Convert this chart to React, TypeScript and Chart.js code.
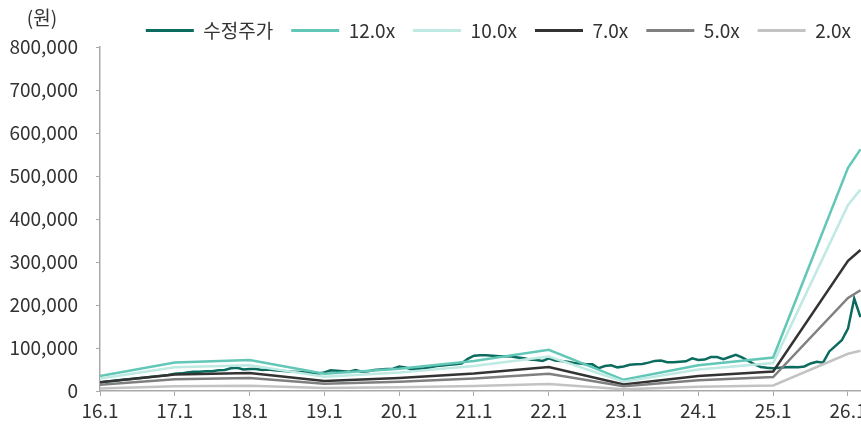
import React, { useEffect, useRef } from "react";
import { Chart, registerables } from "chart.js";

Chart.register(...registerables);

// x positions are months since 2016-01
const tickMonths = [0, 12, 24, 36, 48, 60, 72, 84, 96, 108, 120];
const tickLabels = ["16.1", "17.1", "18.1", "19.1", "20.1", "21.1", "22.1", "23.1", "24.1", "25.1", "26.1"];

// adjusted stock price, monthly from 2016-01
const priceValues = [
  20000, 22000, 23500, 25000, 26500, 28000, 29500, 31000, 32500, 34000, 35500, 37000,
  40000, 41000, 43000, 45000, 45000, 46000, 46000, 48000, 49000, 53000, 54000, 50000,
  51000, 51000, 49000, 50000, 48000, 47000, 46000, 45000, 44000, 43000, 42000, 41000,
  43000, 48000, 47000, 46000, 45000, 49000, 45000, 46000, 49000, 50000, 51000, 52000,
  57000, 55000, 50000, 52000, 53000, 55000, 58000, 59000, 61000, 62000, 64000, 75000,
  82000, 83000, 83000, 82000, 81000, 81000, 80000, 78000, 76000, 73000, 72000, 70000,
  76000, 71000, 70000, 68000, 65000, 64000, 62000, 62000, 53000, 58000, 60000, 55000,
  57000, 61000, 62000, 63000, 66000, 70000, 71000, 67000, 67000, 68000, 69000, 76000,
  72000, 73000, 79000, 79000, 74000, 79000, 84000, 78000, 70000, 62000, 56000, 54000,
  53000, 54000, 55000, 56000, 55000, 57000, 64000, 68000, 66000, 92000, 105000, 118000,
  145000, 215000, 172000,
];

// PER band anchor months and values
const bandMonths = [0, 12, 24, 36, 48, 60, 72, 84, 96, 108, 120, 122];
const band12 = [35000, 66000, 72000, 40000, 52000, 70000, 96000, 26000, 60000, 78000, 519000, 562000];
const band10 = [29200, 55000, 60000, 33300, 43300, 58300, 80000, 21700, 50000, 65000, 432500, 468300];
const band7 = [20400, 38500, 42000, 23300, 30300, 40800, 56000, 15200, 35000, 45500, 302800, 327800];
const band5 = [14600, 27500, 30000, 16700, 21700, 29200, 40000, 10800, 25000, 32500, 216300, 234200];
const band2 = [5800, 11000, 12000, 6700, 8700, 11700, 16000, 4300, 10000, 13000, 86500, 93700];

const seriesNames = ["수정주가", "12.0x", "10.0x", "7.0x", "5.0x", "2.0x"];
const seriesColors = ["#0b6b5f", "#63c7b8", "#bfe9e3", "#333333", "#808080", "#c3c3c3"];

const FONT = "'Noto Sans CJK KR', 'Noto Sans', sans-serif";
const FS = 19;
const TEXT = "#333333";
const AXIS = "#a9a9a9";

export default function App() {
  const ref = useRef<HTMLCanvasElement | null>(null);

  useEffect(() => {
    if (!ref.current) return;
    const bandSets = [band12, band10, band7, band5, band2];
    const datasets: any[] = [
      {
        label: seriesNames[0],
        data: priceValues.map((v, i) => ({ x: i, y: v })),
        borderColor: seriesColors[0],
        backgroundColor: seriesColors[0],
        borderWidth: 2.5,
        pointRadius: 0,
        tension: 0,
        order: 10,
      },
      ...bandSets.map((vals, k) => ({
        label: seriesNames[k + 1],
        data: vals.map((v, i) => ({ x: bandMonths[i], y: v })),
        borderColor: seriesColors[k + 1],
        backgroundColor: seriesColors[k + 1],
        borderWidth: 2.5,
        pointRadius: 0,
        tension: 0,
        order: 5 - k,
      })),
    ];

    const unitPlugin = {
      id: "unitLabel",
      afterDraw(chart: any) {
        const ctx = chart.ctx;
        ctx.save();
        ctx.font = `${FS}px ${FONT}`;
        ctx.fillStyle = TEXT;
        ctx.textAlign = "center";
        ctx.textBaseline = "middle";
        ctx.fillText("(원)", 42, 18);
        ctx.restore();
      },
    };

    const chart = new Chart(ref.current, {
      type: "line",
      data: { datasets },
      plugins: [unitPlugin],
      options: {
        responsive: false,
        animation: false,
        layout: { padding: { top: 3, right: 11, bottom: 0, left: 0 } },
        plugins: {
          tooltip: { enabled: false },
          legend: {
            display: true,
            position: "top",
            align: "end",
            maxHeight: 44,
            labels: {
              boxWidth: 48,
              boxHeight: 3,
              padding: 18,
              color: TEXT,
              font: { family: FONT, size: FS },
              sort: (a: any, b: any) => a.datasetIndex - b.datasetIndex,
              generateLabels(chart: any) {
                const base = (Chart.defaults.plugins.legend.labels as any).generateLabels(chart);
                return base.map((l: any) => ({ ...l, lineWidth: 0, fillStyle: l.strokeStyle }));
              },
            },
          },
        },
        scales: {
          x: {
            type: "linear",
            min: 0,
            max: 123.37,
            afterBuildTicks(scale: any) {
              scale.ticks = tickMonths.map((m) => ({ value: m }));
            },
            afterFit(scale: any) {
              scale.height = 35;
            },
            ticks: {
              autoSkip: false,
              maxRotation: 0,
              padding: 3,
              color: TEXT,
              font: { family: FONT, size: FS },
              callback: (v: any) => {
                const idx = tickMonths.indexOf(Number(v));
                return idx >= 0 ? tickLabels[idx] : "";
              },
            },
            grid: { display: true, drawOnChartArea: false, tickLength: 5, color: AXIS },
            border: { display: true, color: AXIS, width: 1.5 },
          },
          y: {
            type: "linear",
            min: 0,
            max: 800000,
            afterFit(scale: any) {
              scale.width = 100;
            },
            ticks: {
              stepSize: 100000,
              padding: 18,
              color: TEXT,
              font: { family: FONT, size: FS },
              callback: (v: any) => Number(v).toLocaleString("en-US"),
            },
            grid: { display: true, drawOnChartArea: false, tickLength: 4, color: AXIS },
            border: { display: true, color: AXIS, width: 1.5 },
          },
        },
      },
    });
    return () => chart.destroy();
  }, []);

  return (
    <div
      style={{
        position: "absolute",
        left: 0,
        top: 0,
        width: 861,
        height: 426,
        overflow: "hidden",
        background: "#ffffff",
      }}
    >
      <canvas ref={ref} width={880} height={426} style={{ display: "block" }} />
    </div>
  );
}
